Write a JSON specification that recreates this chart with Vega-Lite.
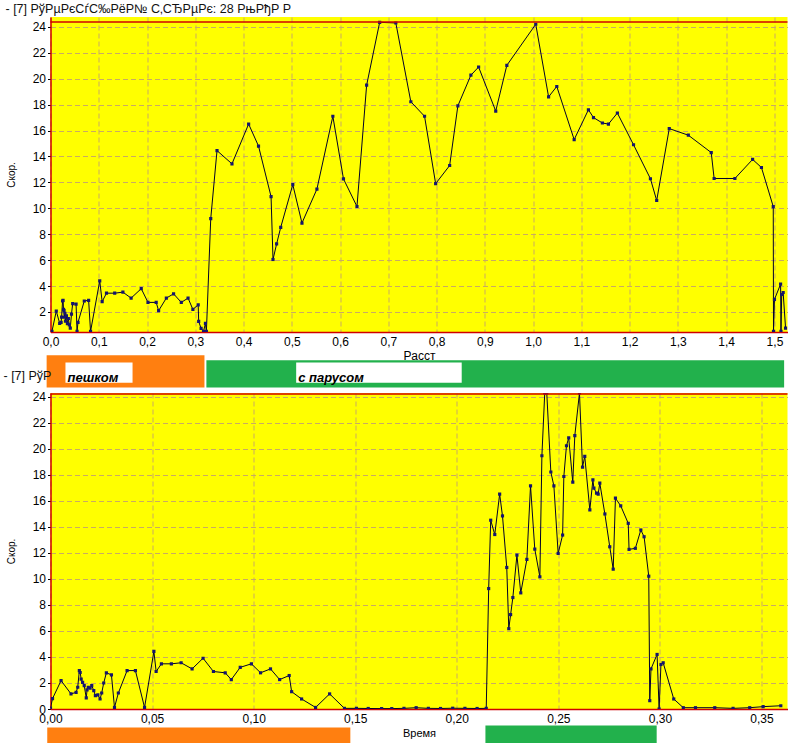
{
  "$schema": "https://vega.github.io/schema/vega-lite/v6.json",
  "padding": {"left": 3.5, "top": 2, "right": 0, "bottom": 0},
  "background": "white",
  "spacing": 0,
  "bounds": "flush",
  "resolve": {"scale": {"x": "independent", "y": "independent"}},
  "config": {
    "view": {"stroke": null},
    "font": "Liberation Sans",
    "axis": {"labelFont": "Liberation Sans", "labelFontSize": 12, "labelColor": "#000", "titleFont": "Liberation Sans", "titleFontWeight": "normal", "titleColor": "#000", "domainColor": "#d00000", "domainWidth": 1.5, "tickColor": "#000", "tickSize": 3, "gridColor": "#c9ab62", "gridDash": [5, 3], "gridOpacity": 1, "labelPadding": 2, "labelFlush": false, "labelOverlap": false},
    "axisX": {"ticks": false, "labelPadding": 4, "titlePadding": 3, "titleFontSize": 12},
    "axisY": {"titleFontSize": 10, "titlePadding": 16},
    "title": {"font": "Liberation Sans", "fontWeight": "normal", "fontSize": 12.5, "color": "#111", "anchor": "start", "frame": "group"}
  },
  "datasets": {
    "dist": [
      {"d": 0.003, "v": 0.5}, {"d": 0.012, "v": 2.07}, {"d": 0.019, "v": 1.12}, {"d": 0.022, "v": 1.2}, {"d": 0.023, "v": 1.6},
      {"d": 0.025, "v": 2.85}, {"d": 0.026, "v": 2.9}, {"d": 0.027, "v": 2.2}, {"d": 0.028, "v": 2.1}, {"d": 0.029, "v": 1.6},
      {"d": 0.030, "v": 1.9}, {"d": 0.031, "v": 1.3}, {"d": 0.033, "v": 1.7}, {"d": 0.035, "v": 1.1}, {"d": 0.037, "v": 1.5},
      {"d": 0.039, "v": 1.0}, {"d": 0.041, "v": 0.76}, {"d": 0.0435, "v": 1.84}, {"d": 0.046, "v": 2.65}, {"d": 0.053, "v": 2.6},
      {"d": 0.055, "v": 0.5}, {"d": 0.057, "v": 1.2}, {"d": 0.070, "v": 2.85}, {"d": 0.079, "v": 2.9}, {"d": 0.083, "v": 0.5},
      {"d": 0.102, "v": 4.4}, {"d": 0.107, "v": 2.8}, {"d": 0.116, "v": 3.45}, {"d": 0.133, "v": 3.45}, {"d": 0.150, "v": 3.53},
      {"d": 0.167, "v": 3.07}, {"d": 0.188, "v": 3.8}, {"d": 0.202, "v": 2.74}, {"d": 0.219, "v": 2.74}, {"d": 0.224, "v": 2.1},
      {"d": 0.240, "v": 3.07}, {"d": 0.255, "v": 3.4}, {"d": 0.271, "v": 2.74}, {"d": 0.285, "v": 3.07}, {"d": 0.295, "v": 2.2},
      {"d": 0.306, "v": 2.55}, {"d": 0.307, "v": 1.27}, {"d": 0.312, "v": 0.73}, {"d": 0.317, "v": 0.5}, {"d": 0.321, "v": 1.12},
      {"d": 0.323, "v": 0.5}, {"d": 0.332, "v": 9.2}, {"d": 0.345, "v": 14.45}, {"d": 0.376, "v": 13.43}, {"d": 0.4105, "v": 16.5},
      {"d": 0.431, "v": 14.8}, {"d": 0.457, "v": 10.9}, {"d": 0.461, "v": 6.05}, {"d": 0.4685, "v": 7.25}, {"d": 0.477, "v": 8.53},
      {"d": 0.502, "v": 11.83}, {"d": 0.521, "v": 8.86}, {"d": 0.552, "v": 11.48}, {"d": 0.585, "v": 17.1}, {"d": 0.607, "v": 12.27},
      {"d": 0.635, "v": 10.14}, {"d": 0.655, "v": 19.5}, {"d": 0.682, "v": 24.35}, {"d": 0.7155, "v": 24.3}, {"d": 0.7466, "v": 18.22},
      {"d": 0.775, "v": 17.1}, {"d": 0.798, "v": 11.9}, {"d": 0.827, "v": 13.3}, {"d": 0.844, "v": 17.9}, {"d": 0.871, "v": 20.27},
      {"d": 0.887, "v": 20.9}, {"d": 0.9225, "v": 17.5}, {"d": 0.9455, "v": 21.03}, {"d": 1.0054, "v": 24.2}, {"d": 1.032, "v": 18.6},
      {"d": 1.049, "v": 19.4}, {"d": 1.085, "v": 15.3}, {"d": 1.1145, "v": 17.6}, {"d": 1.125, "v": 17.0}, {"d": 1.1435, "v": 16.58},
      {"d": 1.156, "v": 16.5}, {"d": 1.1745, "v": 17.35}, {"d": 1.208, "v": 14.9}, {"d": 1.243, "v": 12.28}, {"d": 1.256, "v": 10.6},
      {"d": 1.282, "v": 16.15}, {"d": 1.3215, "v": 15.64}, {"d": 1.369, "v": 14.3}, {"d": 1.375, "v": 12.3}, {"d": 1.418, "v": 12.3},
      {"d": 1.4547, "v": 13.77}, {"d": 1.473, "v": 13.15}, {"d": 1.4975, "v": 10.13}, {"d": 1.498, "v": 0.5}, {"d": 1.500, "v": 2.97},
      {"d": 1.5127, "v": 4.15}, {"d": 1.5135, "v": 0.5}, {"d": 1.515, "v": 3.35}, {"d": 1.518, "v": 3.5}, {"d": 1.523, "v": 0.75}
    ],
    "time": [
      {"t": 0.000, "v": 0.08}, {"t": 0.001, "v": 0.8}, {"t": 0.0052, "v": 2.18}, {"t": 0.0101, "v": 1.16}, {"t": 0.0126, "v": 1.28},
      {"t": 0.0134, "v": 1.67}, {"t": 0.0142, "v": 2.95}, {"t": 0.0146, "v": 2.8}, {"t": 0.0151, "v": 2.3}, {"t": 0.0158, "v": 2.05},
      {"t": 0.0166, "v": 1.8}, {"t": 0.0176, "v": 0.85}, {"t": 0.018, "v": 1.47}, {"t": 0.0186, "v": 1.67}, {"t": 0.0195, "v": 1.6},
      {"t": 0.0203, "v": 1.8}, {"t": 0.0213, "v": 1.41}, {"t": 0.0221, "v": 1.03}, {"t": 0.0233, "v": 1.08}, {"t": 0.0244, "v": 0.77},
      {"t": 0.0252, "v": 1.23}, {"t": 0.0262, "v": 2.0}, {"t": 0.0275, "v": 2.78}, {"t": 0.030, "v": 2.62}, {"t": 0.0315, "v": 0.12},
      {"t": 0.0334, "v": 1.23}, {"t": 0.0377, "v": 2.95}, {"t": 0.0418, "v": 2.95}, {"t": 0.0463, "v": 0.12}, {"t": 0.0509, "v": 4.42},
      {"t": 0.052, "v": 2.88}, {"t": 0.0546, "v": 3.47}, {"t": 0.0595, "v": 3.47}, {"t": 0.0643, "v": 3.55}, {"t": 0.0697, "v": 3.08},
      {"t": 0.0751, "v": 3.9}, {"t": 0.0802, "v": 2.88}, {"t": 0.086, "v": 2.78}, {"t": 0.089, "v": 2.26}, {"t": 0.0934, "v": 3.2},
      {"t": 0.0989, "v": 3.47}, {"t": 0.1034, "v": 2.78}, {"t": 0.1083, "v": 3.08}, {"t": 0.1128, "v": 2.26}, {"t": 0.1175, "v": 2.57},
      {"t": 0.1187, "v": 1.33}, {"t": 0.1236, "v": 0.77}, {"t": 0.1305, "v": 0.12}, {"t": 0.1374, "v": 1.16}, {"t": 0.1447, "v": 0.05},
      {"t": 0.1506, "v": 0.05}, {"t": 0.1564, "v": 0.04}, {"t": 0.163, "v": 0.03}, {"t": 0.168, "v": 0.03}, {"t": 0.174, "v": 0.05},
      {"t": 0.180, "v": 0.1}, {"t": 0.186, "v": 0.05}, {"t": 0.192, "v": 0.04}, {"t": 0.198, "v": 0.06}, {"t": 0.204, "v": 0.05},
      {"t": 0.210, "v": 0.04}, {"t": 0.2145, "v": 0.05}, {"t": 0.2157, "v": 9.25}, {"t": 0.2167, "v": 14.5}, {"t": 0.2187, "v": 13.4},
      {"t": 0.2211, "v": 16.5}, {"t": 0.2225, "v": 14.83}, {"t": 0.2246, "v": 10.87}, {"t": 0.2256, "v": 6.17}, {"t": 0.2265, "v": 7.25},
      {"t": 0.2276, "v": 8.56}, {"t": 0.2296, "v": 11.82}, {"t": 0.2315, "v": 8.92}, {"t": 0.2345, "v": 11.49}, {"t": 0.2363, "v": 17.14},
      {"t": 0.2384, "v": 12.28}, {"t": 0.2409, "v": 10.15}, {"t": 0.2419, "v": 19.45}, {"t": 0.2433, "v": 24.27}, {"t": 0.2443, "v": 24.27},
      {"t": 0.2463, "v": 18.2}, {"t": 0.2478, "v": 17.14}, {"t": 0.2499, "v": 11.95}, {"t": 0.2521, "v": 13.36}, {"t": 0.2527, "v": 17.86},
      {"t": 0.254, "v": 20.22}, {"t": 0.2551, "v": 20.82}, {"t": 0.2571, "v": 17.42}, {"t": 0.2581, "v": 21.0}, {"t": 0.2604, "v": 24.27},
      {"t": 0.2619, "v": 18.58}, {"t": 0.263, "v": 19.4}, {"t": 0.2655, "v": 15.29}, {"t": 0.267, "v": 17.6}, {"t": 0.2675, "v": 16.96},
      {"t": 0.2688, "v": 16.58}, {"t": 0.2696, "v": 16.5}, {"t": 0.2704, "v": 17.35}, {"t": 0.2729, "v": 14.98}, {"t": 0.2753, "v": 12.46},
      {"t": 0.277, "v": 10.74}, {"t": 0.2781, "v": 16.19}, {"t": 0.2807, "v": 15.6}, {"t": 0.2844, "v": 14.26}, {"t": 0.2848, "v": 12.26},
      {"t": 0.2879, "v": 12.34}, {"t": 0.2906, "v": 13.75}, {"t": 0.2922, "v": 13.23}, {"t": 0.2945, "v": 10.2}, {"t": 0.295, "v": 0.64},
      {"t": 0.2956, "v": 3.08}, {"t": 0.2986, "v": 4.19}, {"t": 0.2996, "v": 0.0}, {"t": 0.3005, "v": 3.42}, {"t": 0.3016, "v": 3.55},
      {"t": 0.3068, "v": 0.77}, {"t": 0.3115, "v": 0.1}, {"t": 0.3175, "v": 0.1}, {"t": 0.327, "v": 0.1}, {"t": 0.336, "v": 0.05},
      {"t": 0.3442, "v": 0.1}, {"t": 0.3508, "v": 0.18}, {"t": 0.3595, "v": 0.25}
    ],
    "distModes": [
      {"mode": "пешком", "start": -0.008, "end": 0.319, "label_start": 0.031, "label_end": 0.170},
      {"mode": "с парусом", "start": 0.323, "end": 1.520, "label_start": 0.509, "label_end": 0.852}
    ],
    "timeModes": [
      {"mode": "пешком", "start": -0.0016, "end": 0.1476},
      {"mode": "с парусом", "start": 0.2141, "end": 0.2984}
    ]
  },
  "vconcat": [
    {
      "width": 737, "height": 315,
      "title": {"text": "- [7] РўРµРєСѓС‰РёР№ С‚СЂРµРє: 28 РњРђР Р", "dx": -45, "offset": 2},
      "view": {"fill": "#ffff00", "stroke": null},
      "layer": [
        {
          "data": {"name": "dist"},
          "mark": {"type": "line", "color": "#000028", "strokeWidth": 1, "clip": true, "point": {"shape": "square", "size": 10, "filled": true, "color": "#14146e"}},
          "encoding": {
            "x": {"field": "d", "type": "quantitative", "scale": {"domain": [0, 1.527], "nice": false, "zero": false},
              "axis": {"title": "Расст", "tickCount": 40, "values": [0, 0.1, 0.2, 0.3, 0.4, 0.5, 0.6, 0.7, 0.8, 0.9, 1.0, 1.1, 1.2, 1.3, 1.4, 1.5], "labelExpr": "replace(format(datum.value, '.1f'), '.', ',')"}},
            "y": {"field": "v", "type": "quantitative", "scale": {"domain": [0.455, 24.76], "nice": false, "zero": false},
              "axis": {"title": "Скор.", "tickCount": 40, "format": "d", "values": [2, 4, 6, 8, 10, 12, 14, 16, 18, 20, 22, 24]}}
          }
        },
        {
          "data": {"values": [{}]},
          "mark": {"type": "rule", "color": "#d00000", "strokeWidth": 1.5},
          "encoding": {"y": {"datum": 24.37}}
        }
      ]
    },
    {
      "width": 737, "height": 60.5,
      "title": {"text": "- [7] РўР", "dx": -47, "dy": 50, "offset": 0},
      "data": {"name": "distModes"},
      "layer": [
        {
          "transform": [{"filter": "datum.mode === 'пешком'"}],
          "mark": {"type": "rect", "color": "#ff7f10"},
          "encoding": {
            "x": {"field": "start", "type": "quantitative", "scale": {"domain": [0, 1.527], "nice": false, "zero": false}, "axis": null},
            "x2": {"field": "end"},
            "y": {"datum": "band", "type": "nominal", "scale": {"paddingInner": 0, "paddingOuter": 0.4375, "align": 0.821}, "axis": null}
          }
        },
        {
          "transform": [{"filter": "datum.mode === 'с парусом'"}],
          "mark": {"type": "rect", "color": "#22b14c"},
          "encoding": {
            "x": {"field": "start", "type": "quantitative", "axis": null},
            "x2": {"field": "end"},
            "y": {"datum": "band", "type": "nominal", "scale": {"paddingInner": 0, "paddingOuter": 0.611, "align": 0.848}, "axis": null}
          }
        },
        {
          "mark": {"type": "rect", "color": "#ffffff"},
          "encoding": {
            "x": {"field": "label_start", "type": "quantitative", "axis": null},
            "x2": {"field": "label_end"},
            "y": {"datum": "band", "type": "nominal", "scale": {"paddingInner": 0, "paddingOuter": 1.28, "align": 0.759}, "axis": null}
          }
        },
        {
          "mark": {"type": "text", "align": "left", "baseline": "middle", "fontWeight": "bold", "fontStyle": "italic", "fontSize": 13, "dx": 2, "font": "Liberation Sans", "color": "#000"},
          "encoding": {
            "x": {"field": "label_start", "type": "quantitative", "axis": null},
            "y": {"datum": "band", "type": "nominal", "scale": {"paddingInner": 0, "paddingOuter": 1.28, "align": 0.759}, "axis": null},
            "text": {"field": "mode"}
          }
        }
      ],
      "resolve": {"scale": {"y": "independent"}}
    },
    {
      "width": 737, "height": 316,
      "view": {"fill": "#ffff00", "stroke": null},
      "layer": [
        {
          "data": {"name": "time"},
          "mark": {"type": "line", "color": "#000028", "strokeWidth": 1, "clip": true, "point": {"shape": "square", "size": 10, "filled": true, "color": "#14146e"}},
          "encoding": {
            "x": {"field": "t", "type": "quantitative", "scale": {"domain": [0, 0.3628], "nice": false, "zero": false},
              "axis": {"title": "Время", "titleFontSize": 11, "tickCount": 40, "values": [0, 0.05, 0.1, 0.15, 0.2, 0.25, 0.3, 0.35], "labelExpr": "replace(format(datum.value, '.2f'), '.', ',')"}},
            "y": {"field": "v", "type": "quantitative", "scale": {"domain": [0, 24.27], "nice": false, "zero": false},
              "axis": {"title": "Скор.", "tickCount": 40, "format": "d", "values": [0, 2, 4, 6, 8, 10, 12, 14, 16, 18, 20, 22, 24]}}
          }
        },
        {
          "data": {"values": [{}]},
          "mark": {"type": "rule", "color": "#d00000", "strokeWidth": 1.5},
          "encoding": {"y": {"datum": 24.2}}
        }
      ]
    },
    {
      "width": 737, "height": 34.5,
      "data": {"name": "timeModes"},
      "layer": [
        {
          "transform": [{"filter": "datum.mode === 'пешком'"}],
          "mark": {"type": "rect", "color": "#ff7f10"},
          "encoding": {
            "x": {"field": "start", "type": "quantitative", "scale": {"domain": [0, 0.3628], "nice": false, "zero": false}, "axis": null},
            "x2": {"field": "end"},
            "y": {"datum": "band", "type": "nominal", "scale": {"paddingInner": 0, "paddingOuter": 0.578, "align": 1}, "axis": null}
          }
        },
        {
          "transform": [{"filter": "datum.mode === 'с парусом'"}],
          "mark": {"type": "rect", "color": "#22b14c"},
          "encoding": {
            "x": {"field": "start", "type": "quantitative", "axis": null},
            "x2": {"field": "end"},
            "y": {"datum": "band", "type": "nominal", "scale": {"paddingInner": 0, "paddingOuter": 0.458, "align": 1}, "axis": null}
          }
        }
      ],
      "resolve": {"scale": {"y": "independent"}}
    }
  ]
}
